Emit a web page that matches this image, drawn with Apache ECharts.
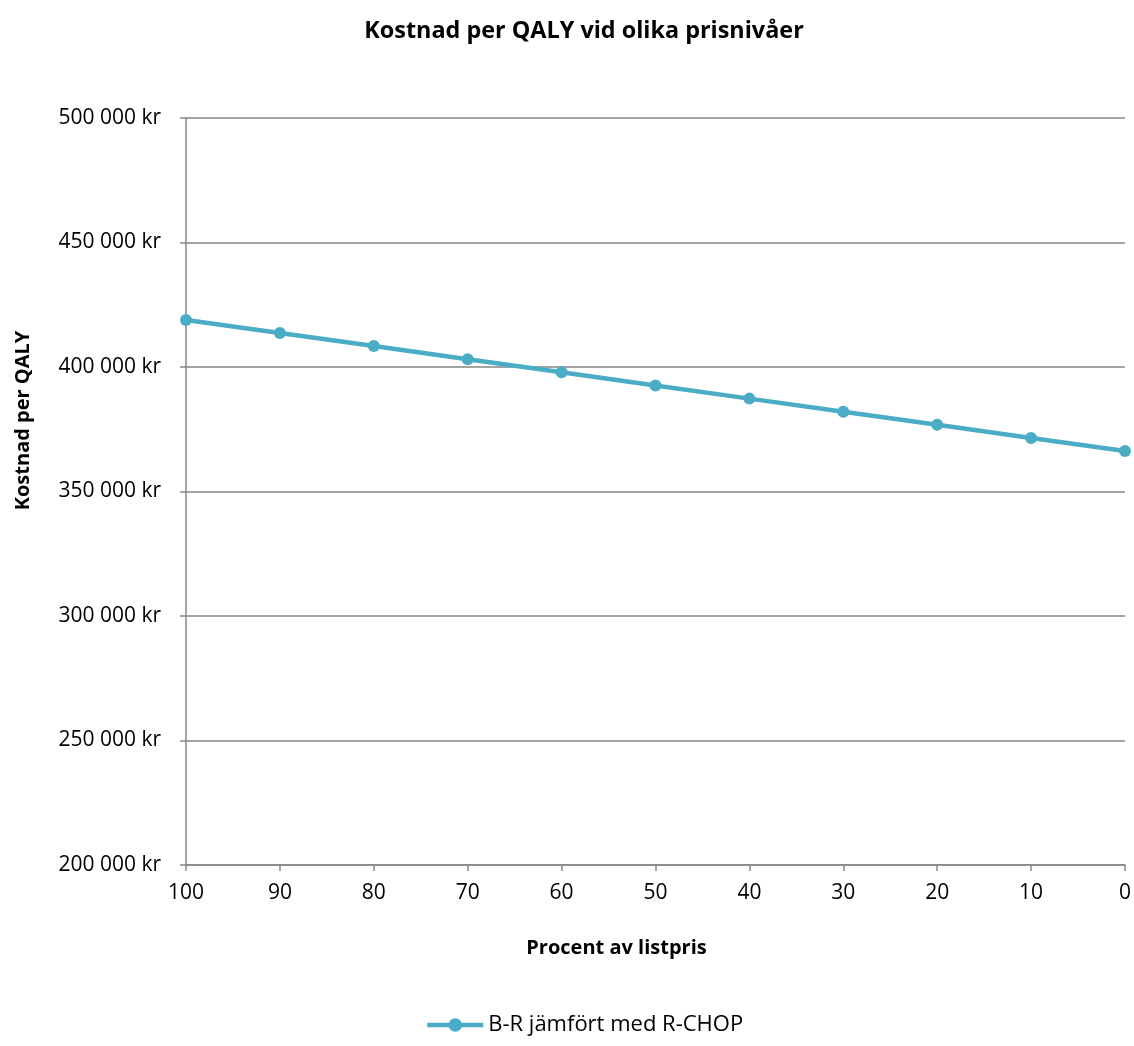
<!DOCTYPE html>
<html>
<head>
<meta charset="utf-8">
<script src="https://cdn.jsdelivr.net/npm/echarts@6/dist/echarts.min.js"></script>
<style>
html,body{margin:0;padding:0;background:#fff;}
#chart{width:1134px;height:1046px;}
</style>
</head>
<body>
<div id="chart"></div>
<script>
// Price level as percent of list price
const priceLevels = ['100', '90', '80', '70', '60', '50', '40', '30', '20', '10', '0'];
// Cost per QALY (kr), B-R compared with R-CHOP
const costPerQaly = [418900, 413650, 408400, 403100, 397850, 392600, 387300, 382050, 376800, 371500, 366250];
const seriesName = 'B-R jämfört med R-CHOP';

const font = '"Open Sans", "Noto Sans", sans-serif';
const lineColor = '#4BACC6';
const axisGray = '#868686';

const chart = echarts.init(document.getElementById('chart'));
chart.setOption({
  animation: false,
  backgroundColor: '#fff',
  title: {
    text: 'Kostnad per QALY vid olika prisnivåer',
    left: 579,
    textAlign: 'center',
    top: 15,
    textStyle: { fontFamily: font, fontSize: 23.4, fontWeight: 'bold', color: '#000' }
  },
  legend: {
    bottom: 5,
    left: 420,
    itemWidth: 56,
    itemHeight: 17,
    itemGap: 6,
    lineStyle: { width: 4.5 },
    textStyle: { fontFamily: font, fontSize: 22, color: '#000' },
    data: [seriesName]
  },
  grid: { left: 186, right: 9, top: 118, bottom: 181 },
  xAxis: {
    type: 'category',
    data: priceLevels,
    boundaryGap: false,
    name: 'Procent av listpris',
    nameLocation: 'middle',
    nameGap: 73,
    nameTextStyle: { fontFamily: font, fontSize: 20, fontWeight: 'bold', color: '#000', padding: [0, 78, 0, 0] },
    axisLine: { lineStyle: { color: axisGray, width: 1.5 } },
    axisTick: { show: true, length: 6, alignWithLabel: true, lineStyle: { color: axisGray, width: 1.5 } },
    axisLabel: { fontFamily: font, fontSize: 21, color: '#000', margin: 18 },
    splitLine: { show: false }
  },
  yAxis: {
    type: 'value',
    min: 200000,
    max: 500000,
    interval: 50000,
    name: 'Kostnad per QALY',
    nameLocation: 'middle',
    nameGap: 153,
    nameRotate: 90,
    nameTextStyle: { fontFamily: font, fontSize: 20, fontWeight: 'bold', color: '#000', padding: [0, 0, 0, 142] },
    axisLine: { show: true, lineStyle: { color: axisGray, width: 1.5 } },
    axisTick: { show: true, length: 6, lineStyle: { color: axisGray, width: 1.5 } },
    axisLabel: {
      fontFamily: font, fontSize: 21, color: '#000', margin: 25,
      formatter: v => String(v).replace(/\B(?=(\d{3})+(?!\d))/g, ' ') + ' kr'
    },
    splitLine: { show: true, lineStyle: { color: axisGray, width: 1.5 } }
  },
  series: [{
    name: seriesName,
    type: 'line',
    data: costPerQaly,
    symbol: 'circle',
    symbolSize: 12,
    lineStyle: { color: lineColor, width: 4.5 },
    itemStyle: { color: lineColor },
    z: 5
  }]
});
</script>
</body>
</html>
